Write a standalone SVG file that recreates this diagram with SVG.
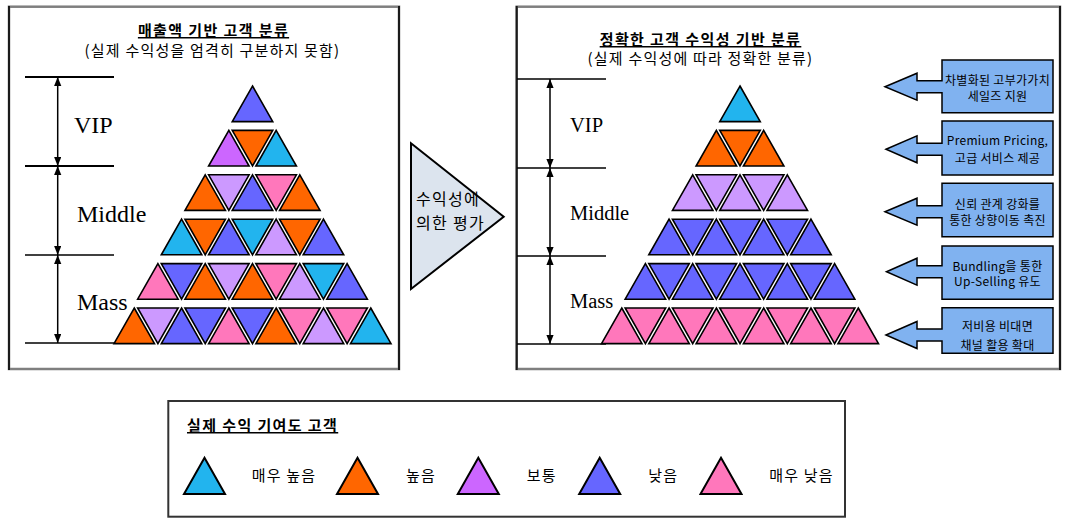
<svg xmlns="http://www.w3.org/2000/svg" width="1072" height="524" viewBox="0 0 1072 524">
<style>
.kr{font-family:"Noto Sans CJK KR","Noto Sans",sans-serif;fill:#000}
.t{font-size:15px;font-weight:bold;text-decoration:underline;letter-spacing:1.4px;text-anchor:middle}
.s{font-size:15px;letter-spacing:1.2px;text-anchor:middle}
.lab{font-family:"Liberation Serif","Times New Roman",serif;fill:#000}
.tri{stroke:#000;stroke-width:1.6;stroke-linejoin:miter}
.c{fill:#22B4EE}.o{fill:#FF6600}.p{fill:#CC66FF}.l{fill:#CC99FF}.b{fill:#6666FF}.k{fill:#FF77BB}
.frameH{fill:none;stroke:#7f7f7f;stroke-width:2.5}
.frameV{stroke:#1a1a1a;stroke-width:2}
.bl{stroke:#000;fill:none}
.arr{stroke:#000;stroke-width:1.5;marker-start:url(#ah);marker-end:url(#ah)}
.cal{fill:#80B2F0;stroke:#000;stroke-width:1.5;stroke-linejoin:miter}
.bt{font-size:12px;letter-spacing:0.3px;text-anchor:middle}
.lg{font-size:15px;letter-spacing:1.2px}
</style>
<defs>
<polygon id="u" points="0,0 20.25,35.6 -20.25,35.6"/>
<polygon id="d" points="-20.25,0 20.25,0 0,35.6"/>
<polygon id="lt" points="0,0 20.5,36.3 -20.5,36.3"/>
<marker id="ah" markerUnits="userSpaceOnUse" markerWidth="10" markerHeight="8" refX="9" refY="3.6" orient="auto-start-reverse">
<path d="M0,0 L9,3.6 L0,7.2 Z" fill="#000"/>
</marker>
</defs>
<rect width="1072" height="524" fill="#fff"/>

<g id="left-panel">
<rect class="frameH" x="9" y="6.7" width="390" height="362.3"/>
<line class="frameV" x1="9" y1="6" x2="9" y2="370"/>
<line class="frameV" x1="399" y1="6" x2="399" y2="370"/>
<text class="kr t" x="213.5" y="36">매출액 기반 고객 분류</text>
<text class="kr s" x="212.5" y="55.5">(실제 수익성을 엄격히 구분하지 못함)</text>
<line class="bl" stroke-width="2" x1="25" y1="77" x2="114" y2="77"/>
<line class="bl" stroke-width="2" x1="25" y1="166" x2="114" y2="166"/>
<line class="bl" stroke-width="1.3" x1="25" y1="255" x2="114" y2="255"/>
<line class="bl" stroke-width="1.5" x1="25" y1="343" x2="114" y2="343"/>
<text class="lab" font-size="24" x="74" y="133">VIP</text>
<text class="lab" font-size="24" x="77" y="221.5">Middle</text>
<text class="lab" font-size="24" x="77" y="310">Mass</text>
</g>

<g id="left-pyramid" class="tri">
<use href="#u" x="252.5" y="86" class="b"/>
<use href="#u" x="228.85" y="130.4" class="p"/><use href="#d" x="252.5" y="130.4" class="o"/><use href="#u" x="276.15" y="130.4" class="c"/>
<use href="#u" x="205.2" y="174.8" class="o"/><use href="#d" x="228.85" y="174.8" class="l"/><use href="#u" x="252.5" y="174.8" class="b"/><use href="#d" x="276.15" y="174.8" class="k"/><use href="#u" x="299.8" y="174.8" class="o"/>
<use href="#u" x="181.55" y="219.2" class="c"/><use href="#d" x="205.2" y="219.2" class="o"/><use href="#u" x="228.85" y="219.2" class="b"/><use href="#d" x="252.5" y="219.2" class="c"/><use href="#u" x="276.15" y="219.2" class="l"/><use href="#d" x="299.8" y="219.2" class="o"/><use href="#u" x="323.45" y="219.2" class="b"/>
<use href="#u" x="157.9" y="263.6" class="k"/><use href="#d" x="181.55" y="263.6" class="b"/><use href="#u" x="205.2" y="263.6" class="o"/><use href="#d" x="228.85" y="263.6" class="l"/><use href="#u" x="252.5" y="263.6" class="o"/><use href="#d" x="276.15" y="263.6" class="k"/><use href="#u" x="299.8" y="263.6" class="l"/><use href="#d" x="323.45" y="263.6" class="c"/><use href="#u" x="347.1" y="263.6" class="b"/>
<use href="#u" x="134.25" y="308" class="o"/><use href="#d" x="157.9" y="308" class="l"/><use href="#u" x="181.55" y="308" class="b"/><use href="#d" x="205.2" y="308" class="b"/><use href="#u" x="228.85" y="308" class="k"/><use href="#d" x="252.5" y="308" class="b"/><use href="#u" x="276.15" y="308" class="o"/><use href="#d" x="299.8" y="308" class="k"/><use href="#u" x="323.45" y="308" class="l"/><use href="#d" x="347.1" y="308" class="k"/><use href="#u" x="370.75" y="308" class="c"/>
</g>

<g id="evaluation-arrow">
<polygon points="411,143.3 503.7,216.7 411,289" fill="#DCE4EE" stroke="#000" stroke-width="2"/>
<text class="kr" font-size="16" letter-spacing="1.3" x="416" y="205">수익성에</text>
<text class="kr" font-size="16" letter-spacing="1.3" x="416" y="229">의한 평가</text>
</g>

<g id="right-panel">
<rect class="frameH" x="516.7" y="6.7" width="543.3" height="362.3"/>
<line class="frameV" x1="516.7" y1="6" x2="516.7" y2="370"/>
<line class="frameV" x1="1060" y1="6" x2="1060" y2="370"/>
<text class="kr t" x="700.5" y="45">정확한 고객 수익성 기반 분류</text>
<text class="kr s" x="700.5" y="64">(실제 수익성에 따라 정확한 분류)</text>
<line class="bl" stroke-width="1.3" x1="517" y1="79" x2="606" y2="79"/>
<line class="bl" stroke-width="1.3" x1="517" y1="168" x2="606" y2="168"/>
<line class="bl" stroke-width="1.3" x1="517" y1="256" x2="606" y2="256"/>
<line class="bl" stroke-width="1.5" x1="517" y1="344" x2="606" y2="344"/>
<text class="lab" font-size="20.5" x="570" y="131.7">VIP</text>
<text class="lab" font-size="20.5" x="570" y="220">Middle</text>
<text class="lab" font-size="20.5" x="570" y="308">Mass</text>
</g>

<g id="right-pyramid" class="tri">
<use href="#u" x="740" y="86" class="c"/>
<g class="o"><use href="#u" x="716.35" y="130.4"/><use href="#d" x="740" y="130.4"/><use href="#u" x="763.65" y="130.4"/></g>
<g class="l"><use href="#u" x="692.7" y="174.8"/><use href="#d" x="716.35" y="174.8"/><use href="#u" x="740" y="174.8"/><use href="#d" x="763.65" y="174.8"/><use href="#u" x="787.3" y="174.8"/></g>
<g class="b"><use href="#u" x="669.05" y="219.2"/><use href="#d" x="692.7" y="219.2"/><use href="#u" x="716.35" y="219.2"/><use href="#d" x="740" y="219.2"/><use href="#u" x="763.65" y="219.2"/><use href="#d" x="787.3" y="219.2"/><use href="#u" x="810.95" y="219.2"/></g>
<g class="b"><use href="#u" x="645.4" y="263.6"/><use href="#d" x="669.05" y="263.6"/><use href="#u" x="692.7" y="263.6"/><use href="#d" x="716.35" y="263.6"/><use href="#u" x="740" y="263.6"/><use href="#d" x="763.65" y="263.6"/><use href="#u" x="787.3" y="263.6"/><use href="#d" x="810.95" y="263.6"/><use href="#u" x="834.6" y="263.6"/></g>
<g class="k"><use href="#u" x="621.75" y="308"/><use href="#d" x="645.4" y="308"/><use href="#u" x="669.05" y="308"/><use href="#d" x="692.7" y="308"/><use href="#u" x="716.35" y="308"/><use href="#d" x="740" y="308"/><use href="#u" x="763.65" y="308"/><use href="#d" x="787.3" y="308"/><use href="#u" x="810.95" y="308"/><use href="#d" x="834.6" y="308"/><use href="#u" x="858.25" y="308"/></g>
</g>

<g id="strategy-1">
<path class="cal" d="M885,86.7 L917,73.2 L917,80.7 L942,80.7 L942,60 L1053,60 L1053,112.7 L942,112.7 L942,92.7 L917,92.7 L917,100.2 Z"/>
<text class="kr bt" x="997.5" y="84.5">차별화된 고부가가치</text>
<text class="kr bt" x="997.5" y="100.5">세일즈 지원</text>
</g>
<g id="strategy-2">
<path class="cal" d="M886,149.3 L917,135.8 L917,143.3 L942,143.3 L942,121 L1053,121 L1053,175 L942,175 L942,155.3 L917,155.3 L917,162.8 Z"/>
<text class="kr bt" x="997.5" y="144.5">Premium Pricing,</text>
<text class="kr bt" x="997.5" y="162.5">고급 서비스 제공</text>
</g>
<g id="strategy-3">
<path class="cal" d="M885,211.7 L917,198.2 L917,205.7 L942,205.7 L942,183.3 L1053,183.3 L1053,236.7 L942,236.7 L942,217.7 L917,217.7 L917,225.2 Z"/>
<text class="kr bt" x="997.5" y="209">신뢰 관계 강화를</text>
<text class="kr bt" x="997.5" y="225">통한 상향이동 촉진</text>
</g>
<g id="strategy-4">
<path class="cal" d="M886.5,271.7 L917,258.2 L917,265.7 L942,265.7 L942,246 L1053,246 L1053,299.3 L942,299.3 L942,277.7 L917,277.7 L917,285.2 Z"/>
<text class="kr bt" x="997.5" y="271">Bundling을 통한</text>
<text class="kr bt" x="997.5" y="286">Up-Selling 유도</text>
</g>
<g id="strategy-5">
<path class="cal" d="M886,335 L917,321.5 L917,329 L942,329 L942,307.7 L1053,307.7 L1053,353.3 L942,353.3 L942,341 L917,341 L917,348.5 Z"/>
<text class="kr bt" x="997.5" y="331">저비용 비대면</text>
<text class="kr bt" x="997.5" y="349.5">채널 활용 확대</text>
</g>

<g id="connectors">
<line class="arr" x1="57.7" y1="77" x2="57.7" y2="166"/>
<line class="arr" x1="57.7" y1="166" x2="57.7" y2="255"/>
<line class="arr" x1="57.7" y1="255" x2="57.7" y2="343"/>
<line class="arr" x1="550" y1="79" x2="550" y2="168"/>
<line class="arr" x1="550" y1="168" x2="550" y2="256"/>
<line class="arr" x1="550" y1="256" x2="550" y2="344"/>
</g>

<g id="legend">
<rect x="168.3" y="401" width="676.7" height="115.7" fill="none" stroke="#333" stroke-width="2"/>
<text class="kr" font-size="15" font-weight="bold" text-decoration="underline" letter-spacing="1.4" x="187" y="431">실제 수익 기여도 고객</text>
<g stroke="#000" stroke-width="2">
<use href="#lt" x="204.5" y="457.7" class="c"/>
<use href="#lt" x="357.5" y="457.7" class="o"/>
<use href="#lt" x="478.3" y="457.7" class="p"/>
<use href="#lt" x="599.7" y="457.7" class="b"/>
<use href="#lt" x="721" y="457.7" class="k"/>
</g>
<text class="kr lg" x="251.7" y="481">매우 높음</text>
<text class="kr lg" x="406" y="481">높음</text>
<text class="kr lg" x="526.7" y="481">보통</text>
<text class="kr lg" x="648.3" y="481">낮음</text>
<text class="kr lg" x="769.3" y="481">매우 낮음</text>
</g>
</svg>
